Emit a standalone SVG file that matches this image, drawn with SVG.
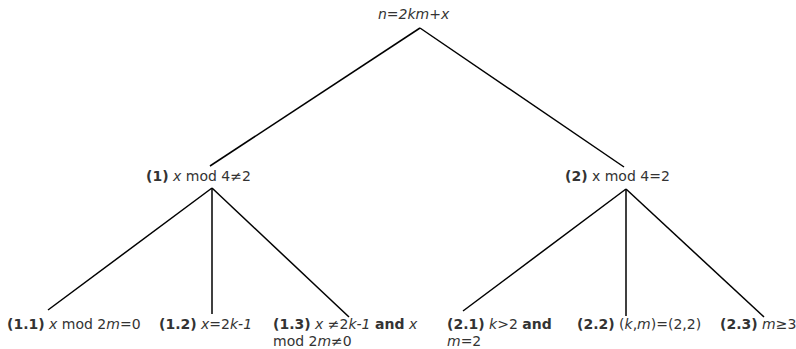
<svg xmlns="http://www.w3.org/2000/svg" width="796" height="349" viewBox="0 0 796 349">
<style>
text{font-family:"DejaVu Sans",sans-serif;font-size:14px;fill:#333;}
.b{font-weight:bold;}
.i{font-style:italic;}
.e{stroke:#000;stroke-width:1.5;fill:none;}
</style>
<rect width="796" height="349" fill="#fff"/>
<g id="connectors">
<line class="e" x1="420" y1="28" x2="210" y2="166"/>
<line class="e" x1="420" y1="28" x2="624" y2="167"/>
<line class="e" x1="212" y1="188" x2="48" y2="310"/>
<line class="e" x1="212" y1="188" x2="212" y2="314"/>
<line class="e" x1="212" y1="188" x2="349" y2="317"/>
<line class="e" x1="626" y1="189" x2="463" y2="311"/>
<line class="e" x1="626" y1="189" x2="626" y2="316"/>
<line class="e" x1="626" y1="189" x2="764" y2="317"/>
</g>
<g id="root"><text x="378" y="19" class="i">n=2km+x</text></g>
<g id="n1"><text x="146" y="181"><tspan class="b">(1)</tspan> <tspan class="i">x</tspan> mod 4≠2</text></g>
<g id="n2"><text x="565" y="181"><tspan class="b">(2)</tspan> x mod 4=2</text></g>
<g id="n11"><text x="7" y="329"><tspan class="b">(1.1)</tspan> <tspan class="i">x</tspan> mod 2<tspan class="i">m</tspan>=0</text></g>
<g id="n12"><text x="159" y="329"><tspan class="b">(1.2)</tspan> <tspan class="i">x</tspan>=2<tspan class="i">k-1</tspan></text></g>
<g id="n13"><text x="273" y="329"><tspan class="b">(1.3)</tspan> <tspan class="i">x</tspan> ≠2<tspan class="i">k-1</tspan> <tspan class="b">and</tspan> <tspan class="i">x</tspan></text><text x="273" y="346">mod 2<tspan class="i">m</tspan>≠0</text></g>
<g id="n21"><text x="447" y="329"><tspan class="b">(2.1)</tspan> <tspan class="i">k</tspan>&gt;2 <tspan class="b">and</tspan></text><text x="447" y="346"><tspan class="i">m</tspan>=2</text></g>
<g id="n22"><text x="577" y="329"><tspan class="b">(2.2)</tspan> (<tspan class="i">k</tspan>,<tspan class="i">m</tspan>)=(2,2)</text></g>
<g id="n23"><text x="720" y="329"><tspan class="b">(2.3)</tspan> <tspan class="i">m</tspan>≥3</text></g>
</svg>
